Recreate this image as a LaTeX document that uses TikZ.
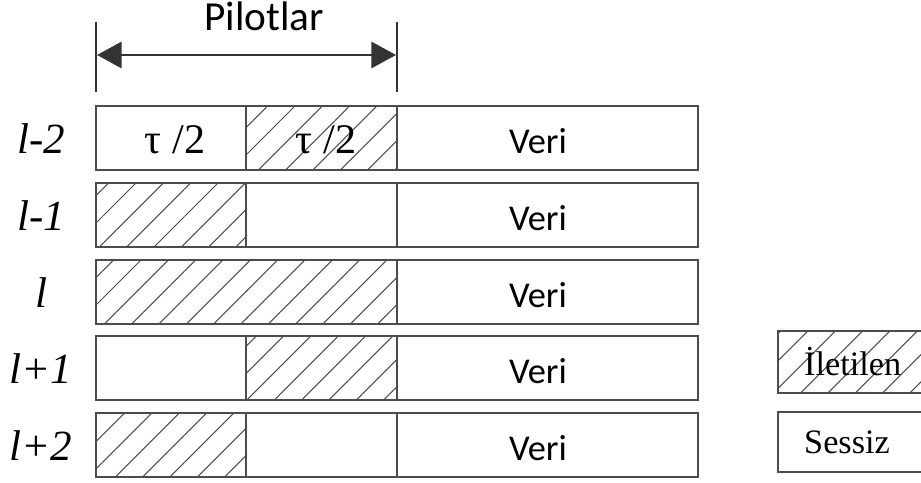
\documentclass[tikz,border=0pt]{standalone}
\usepackage{fontspec}
\setmainfont{Liberation Serif}
\newfontfamily\calfont{Carlito}
\usetikzlibrary{patterns.meta,arrows.meta}

\tikzset{
	hatch/.style={pattern={Lines[angle=45,distance=11pt,line width=0.6pt]},pattern color=black!70},
	cellbox/.style={draw=black!70,line width=1pt},
	rowlab/.style={font=\fontsize{24.5}{26}\selectfont\itshape},
	veri/.style={font=\calfont\fontsize{20.7}{22}\selectfont},
	half/.style={font=\fontsize{24}{26}\selectfont},
	legtext/.style={font=\fontsize{19.5}{21}\selectfont,anchor=west},
	span/.style={line width=1.1pt,black!80,{Triangle[length=14pt,width=15pt]}-{Triangle[length=14pt,width=15pt]}}
}

\begin{document}
\begin{tikzpicture}[x=0.02cm,y=-0.02cm]
	\useasboundingbox (0,0) rectangle (921,483);
	% hatched (transmitted) halves of the pilot part
	\foreach \x / \y in {246/106,96/183,96/260,246/260,246/336,96/413} { \fill[hatch] (\x,\y) rectangle +(151,64);}
	\foreach \n / \y / \lab in {1/106/{l-2},2/183/{l-1},3/260/{l},4/336/{l+1},5/413/{l+2}} {
		\draw[cellbox] (96,\y) rectangle +(602,64);
		\draw[cellbox] (397,\y) -- +(0,64);
		\node[rowlab] (row\n) at (41,\y+33) {\lab};
		\node[veri] (veri\n) at (538,\y+35) {Veri};
	}
	% middle divider, missing in row l
	\foreach \y in {106,183,336,413} { \draw[cellbox] (246,\y) -- +(0,64);}
	\node[half] (tau1) at (175,140) {τ /2};
	\node[half] (tau2) at (326,140) {τ /2};

	% pilot span
	\draw[line width=1.7pt,black!80] (96,22) -- (96,92) (397,22) -- (397,92);
	\coordinate (pl) at (97,55);
	\coordinate (pr) at (396,55);
	\draw[span] (pl) -- (pr);
	\node[font=\calfont\fontsize{23.5}{25}\selectfont,anchor=base] (pilot) at (264,31) {Pilotlar};

	% legend
	\fill[hatch] (778,331) rectangle (940,393);
	\draw[cellbox,line width=1.2pt] (778,331) rectangle (940,393);
	\draw[cellbox,line width=1.2pt] (778,412) rectangle (940,472);
	\node[legtext] (ilet) at (798,362) {İletilen};
	\node[legtext] (sess) at (798,442) {Sessiz};
\end{tikzpicture}
\end{document}
